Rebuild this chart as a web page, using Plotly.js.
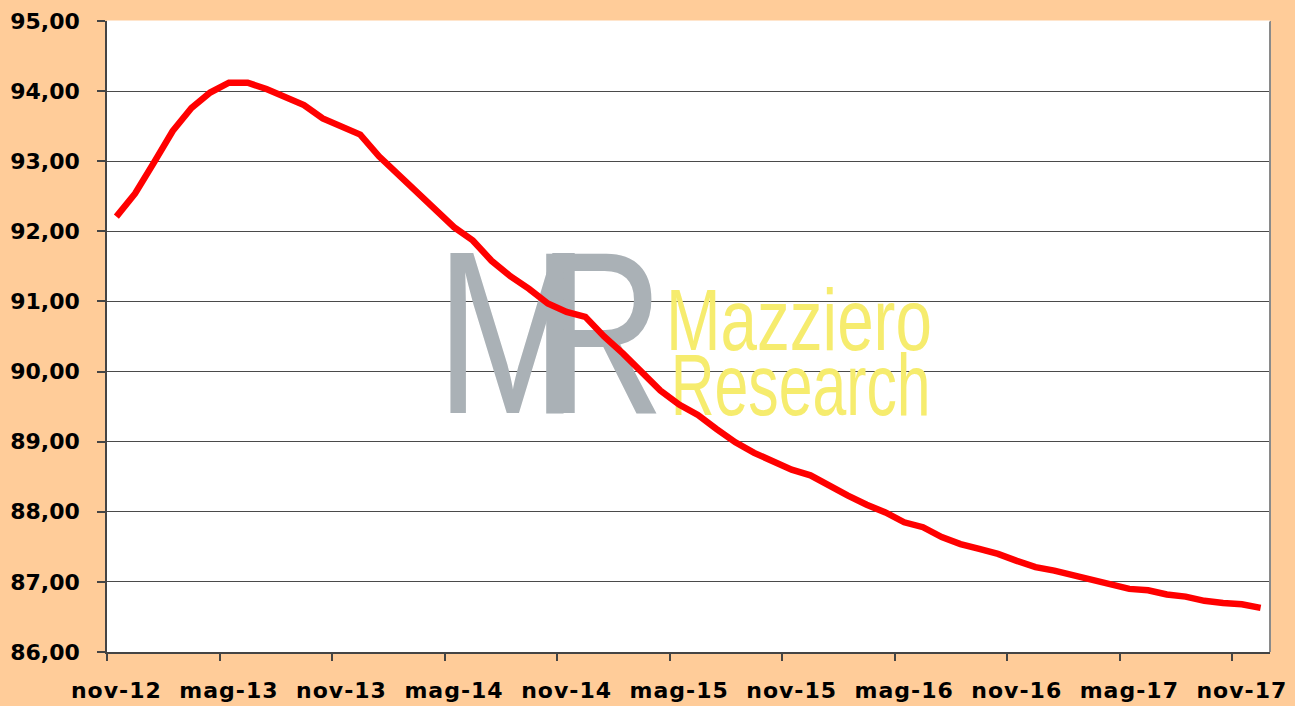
<!DOCTYPE html>
<html>
<head>
<meta charset="utf-8">
<script src="https://cdn.plot.ly/plotly-3.0.1.min.js"></script>
<style>
  html, body { margin: 0; padding: 0; background: #FFCC99; }
  #chart { width: 1295px; height: 706px; }
  .xtick text { letter-spacing: 1px; }
  g.textpoint text {
    transform-box: fill-box;
    transform-origin: 0% 50%;
    transform: scaleX(0.8);
  }
  g.textpoint:nth-child(3) text { transform: scaleX(0.745); }
  g.textpoint:nth-child(4) text { transform: scaleX(0.69); }
</style>
</head>
<body>
<div id="chart"></div>
<script>
// Monthly categories (nov-12 .. dic-17)
const months = [
  'nov-12','dic-12',
  'gen-13','feb-13','mar-13','apr-13','mag-13','giu-13','lug-13','ago-13','set-13','ott-13','nov-13','dic-13',
  'gen-14','feb-14','mar-14','apr-14','mag-14','giu-14','lug-14','ago-14','set-14','ott-14','nov-14','dic-14',
  'gen-15','feb-15','mar-15','apr-15','mag-15','giu-15','lug-15','ago-15','set-15','ott-15','nov-15','dic-15',
  'gen-16','feb-16','mar-16','apr-16','mag-16','giu-16','lug-16','ago-16','set-16','ott-16','nov-16','dic-16',
  'gen-17','feb-17','mar-17','apr-17','mag-17','giu-17','lug-17','ago-17','set-17','ott-17','nov-17','dic-17'
];

// Series values
const values = [
  92.21, 92.54, 92.98, 93.43, 93.76, 93.98, 94.12, 94.12, 94.03, 93.92,
  93.80, 93.61, 93.49, 93.38, 93.07, 92.82, 92.56, 92.30, 92.06, 91.87,
  91.58, 91.36, 91.18, 90.97, 90.85, 90.78, 90.50, 90.26, 90.00, 89.73,
  89.53, 89.38, 89.18, 88.99, 88.84, 88.73, 88.60, 88.52, 88.37, 88.23,
  88.10, 87.99, 87.85, 87.78, 87.64, 87.54, 87.47, 87.40, 87.30, 87.21,
  87.16, 87.10, 87.03, 86.97, 86.90, 86.88, 86.82, 86.79, 86.73, 86.70,
  86.68, 86.63
];

// Tick labels shown on the category axis
const tickLabels = ['nov-12','mag-13','nov-13','mag-14','nov-14','mag-15','nov-15','mag-16','nov-16','mag-17','nov-17'];
const yTicks = [86, 87, 88, 89, 90, 91, 92, 93, 94, 95];

// Watermark texts
const wmTexts = ['M', 'R', 'Mazziero', 'Research'];

const xIdx = months.map((m, i) => i);
const tickIdx = tickLabels.map(l => months.indexOf(l));

const watermark = {
  x: [17.0, 22.1, 29.3, 29.55],
  y: [90.24, 90.24, 90.62, 89.69],
  text: wmTexts,
  mode: 'text',
  textposition: 'middle right',
  textfont: {
    family: '"Liberation Sans", Arial, sans-serif',
    size: [232, 232, 88, 88],
    color: ['#AAB1B6', '#AAB1B6', '#F6EC6E', '#F6EC6E']
  },
  hoverinfo: 'skip',
  showlegend: false,
  cliponaxis: false
};

const line = {
  x: xIdx,
  y: values,
  type: 'scatter',
  mode: 'lines',
  line: { color: '#FF0000', width: 6.5 },
  showlegend: false,
  hovertemplate: '%{text}: %{y:.2f}<extra></extra>',
  text: months
};

const tickFont = { family: '"DejaVu Sans", sans-serif', size: 22, color: '#000000', weight: 'bold' };

const layout = {
  width: 1295,
  height: 706,
  paper_bgcolor: '#FFCC99',
  plot_bgcolor: '#FFFFFF',
  separators: ',.',
  margin: { l: 107, r: 25, t: 21, b: 54 },
  showlegend: false,
  xaxis: {
    type: 'linear',
    range: [-0.5, months.length - 0.5],
    tickmode: 'array',
    tickvals: tickIdx,
    ticktext: tickLabels,
    ticks: '',
    ticklabelstandoff: 18,
    tickfont: tickFont,
    showgrid: false,
    zeroline: false,
    showline: true,
    linecolor: '#444444',
    linewidth: 2,
    minor: {
      tickmode: 'linear',
      tick0: -0.5,
      dtick: 6,
      ticks: 'outside',
      ticklen: 7,
      tickwidth: 1.5,
      tickcolor: '#444444',
      showgrid: false
    },
    fixedrange: true
  },
  yaxis: {
    range: [86, 95],
    tickmode: 'array',
    tickvals: yTicks,
    tickformat: '.2f',
    ticks: 'outside',
    ticklen: 8,
    tickwidth: 1.5,
    tickcolor: '#444444',
    ticklabelstandoff: 13,
    tickfont: tickFont,
    showgrid: true,
    gridcolor: '#4A4A4A',
    gridwidth: 1,
    zeroline: false,
    showline: true,
    linecolor: '#444444',
    linewidth: 1.5,
    fixedrange: true
  },
  shapes: [
    { type: 'line', xref: 'paper', yref: 'paper', x0: 1, x1: 1, y0: 0, y1: 1,
      line: { color: '#8A8A8A', width: 2 } },
    { type: 'line', xref: 'paper', yref: 'paper', x0: 0, x1: 1, y0: 1, y1: 1,
      line: { color: '#FFFFFF', width: 1 } }
  ]
};

Plotly.newPlot('chart', [watermark, line], layout, { displayModeBar: false });
</script>
</body>
</html>
